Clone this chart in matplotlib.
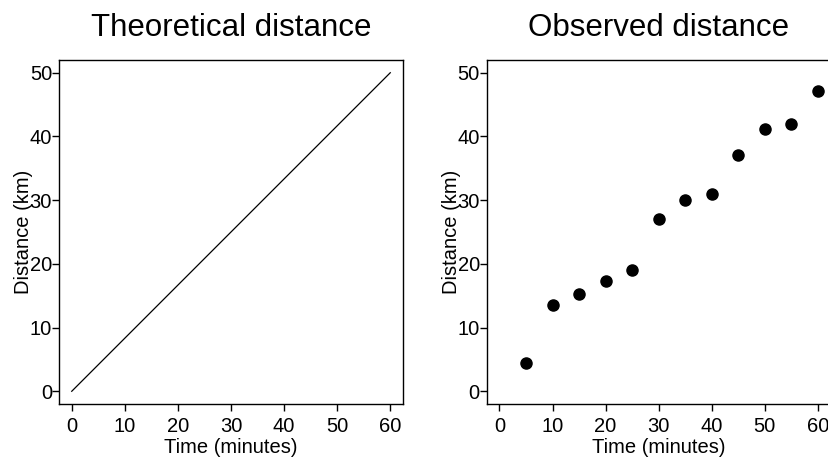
import matplotlib
matplotlib.use("Agg")
import matplotlib.pyplot as plt
import numpy as np

# theoretical line: 50 km in 60 minutes
theory_time = [0, 60]
theory_dist = [0, 50]

# observed points
obs_time = [5, 10, 15, 20, 25, 30, 35, 40, 45, 50, 55, 60]
obs_dist = [4.4, 13.5, 15.2, 17.3, 19.0, 27.0, 30.0, 31.0, 37.1, 41.1, 42.0, 47.1]

x_ticks = [0, 10, 20, 30, 40, 50, 60]
y_ticks = [0, 10, 20, 30, 40, 50]

plt.rcParams['font.family'] = ['Liberation Sans', 'DejaVu Sans']

fig = plt.figure(figsize=(8.29, 4.59), dpi=100)
ax1 = fig.add_axes([59 / 829, 55 / 459, 344 / 829, 344 / 459])
ax2 = fig.add_axes([486.7 / 829, 55 / 459, 344 / 829, 344 / 459])


def style(ax, title):
    ax.set_xlim(-2.4, 62.4)
    ax.set_ylim(-2, 52)
    ax.set_xticks(x_ticks)
    ax.set_yticks(y_ticks)
    ax.tick_params(direction='out', length=5, width=1.0, labelsize=14.5, color='black')
    ax.tick_params(axis='x', pad=4.5)
    ax.tick_params(axis='y', pad=0)
    for s in ax.spines.values():
        s.set_linewidth(1.0)
        s.set_color('black')
    ax.set_title(title, fontsize=22.5, pad=17)
    ax.set_xlabel("Time (minutes)", fontsize=14.5, labelpad=1.5)
    ax.set_ylabel("Distance (km)", fontsize=14.5)
    ax.yaxis.set_label_coords(-0.076, 0.5)


ax1.plot(theory_time, theory_dist, color='black', lw=0.9)
style(ax1, "Theoretical distance")

ax2.plot(obs_time, obs_dist, 'o', color='black', markersize=8)
style(ax2, "Observed distance")

fig.savefig("out.png", dpi=100)
